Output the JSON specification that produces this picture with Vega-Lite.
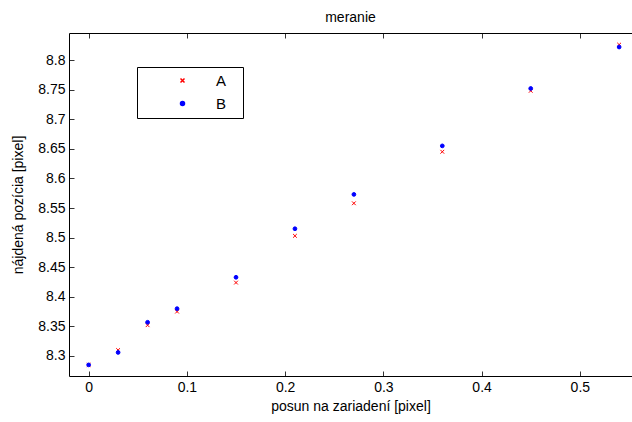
{
  "$schema": "https://vega.github.io/schema/vega-lite/v6.json",
  "width": 563,
  "height": 343,
  "autosize": {"type": "none"},
  "padding": {"left": 69, "top": 33, "right": 0, "bottom": 46},
  "background": "white",
  "title": {"text": "meranie", "font": "Liberation Sans", "fontSize": 14, "fontWeight": "normal", "color": "#000", "offset": 8, "anchor": "middle"},
  "data": {"values": [
    {"x": 0, "y": 8.285, "series": "A"},
    {"x": 0.03, "y": 8.310, "series": "A"},
    {"x": 0.06, "y": 8.352, "series": "A"},
    {"x": 0.09, "y": 8.375, "series": "A"},
    {"x": 0.15, "y": 8.424, "series": "A"},
    {"x": 0.21, "y": 8.503, "series": "A"},
    {"x": 0.27, "y": 8.558, "series": "A"},
    {"x": 0.36, "y": 8.645, "series": "A"},
    {"x": 0.45, "y": 8.748, "series": "A"},
    {"x": 0.54, "y": 8.826, "series": "A"},
    {"x": 0, "y": 8.285, "series": "B"},
    {"x": 0.03, "y": 8.306, "series": "B"},
    {"x": 0.06, "y": 8.357, "series": "B"},
    {"x": 0.09, "y": 8.380, "series": "B"},
    {"x": 0.15, "y": 8.433, "series": "B"},
    {"x": 0.21, "y": 8.515, "series": "B"},
    {"x": 0.27, "y": 8.573, "series": "B"},
    {"x": 0.36, "y": 8.655, "series": "B"},
    {"x": 0.45, "y": 8.752, "series": "B"},
    {"x": 0.54, "y": 8.822, "series": "B"}
  ]},
  "layer": [
    {
      "mark": {"type": "point", "filled": true, "size": 14, "strokeWidth": 1, "opacity": 1},
      "encoding": {
        "x": {"field": "x", "type": "quantitative", "scale": {"domain": [-0.02, 0.5531], "nice": false, "zero": false},
          "axis": {"values": [0, 0.1, 0.2, 0.3, 0.4, 0.5], "format": ".1~f", "title": "posun na zariadení [pixel]", "orient": "bottom"}},
        "y": {"field": "y", "type": "quantitative", "scale": {"domain": [8.2662, 8.8457], "nice": false, "zero": false},
          "axis": {"values": [8.3, 8.35, 8.4, 8.45, 8.5, 8.55, 8.6, 8.65, 8.7, 8.75, 8.8], "format": ".2~f", "title": "nájdená pozícia [pixel]", "titlePadding": 12}},
        "shape": {"field": "series", "type": "nominal", "scale": {"domain": ["A", "B"], "range": ["M-1,-1L1,1M1,-1L-1,1", "circle"]}, "title": "I"},
        "fill": {"field": "series", "type": "nominal", "scale": {"domain": ["A", "B"], "range": ["#ff0000", "#0000ff"]}, "title": "I"},
        "stroke": {"field": "series", "type": "nominal", "scale": {"domain": ["A", "B"], "range": ["#ff0000", "#0000ff"]}, "title": "I"}
      }
    },
    {
      "mark": {"type": "point", "opacity": 0},
      "encoding": {
        "x": {"field": "x", "type": "quantitative",
          "axis": {"values": [0, 0.1, 0.2, 0.3, 0.4, 0.5], "orient": "top", "labels": false, "title": null}}
      }
    }
  ],
  "resolve": {"axis": {"x": "independent"}},
  "config": {
    "view": {"stroke": null},
    "axis": {
      "grid": false,
      "domainColor": "#000",
      "domainWidth": 1,
      "tickColor": "#333",
      "tickSize": -5,
      "labelPadding": 9,
      "labelFont": "Liberation Sans",
      "labelFontSize": 14,
      "labelColor": "#000",
      "titleFont": "Liberation Sans",
      "titleFontSize": 14,
      "titleFontWeight": "normal",
      "titleColor": "#000"
    },
    "axisX": {"titlePadding": 5},
    "legend": {
      "orient": "none",
      "legendX": 68,
      "legendY": 34,
      "strokeColor": "#000",
      "fillColor": "#fff",
      "padding": 6,
      "symbolSize": 16,
      "symbolOffset": 32,
      "labelOffset": 26,
      "rowPadding": 7,
      "labelFont": "Liberation Sans",
      "labelFontSize": 15,
      "labelColor": "#000",
      "titleOrient": "right",
      "titleColor": "#fff",
      "titleFontSize": 8,
      "titlePadding": 8
    }
  }
}
